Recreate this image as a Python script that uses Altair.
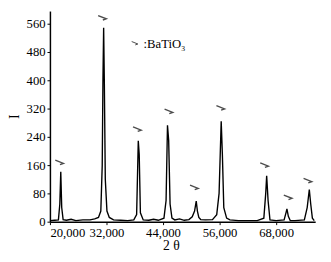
import altair as alt
import pandas as pd

# XRD profile (2theta, intensity)
two_theta = [20.0, 21.0, 21.8, 22.1, 22.3, 22.5, 22.8, 23.5, 24.5, 25.5, 27.0, 28.5, 29.5, 30.3,
             30.8, 31.1, 31.25, 31.4, 31.55, 31.75, 32.1, 32.6, 33.5, 35.0, 36.5, 37.8, 38.4,
             38.75, 38.95, 39.2, 39.8, 41.0, 42.0, 43.0, 44.2, 44.65, 44.95, 45.2, 45.5, 45.9,
             46.5, 47.5, 48.5, 49.5, 50.2, 50.7, 51.05, 51.3, 51.6, 52.0, 53.0, 54.5, 55.4,
             55.9, 56.35, 56.6, 56.9, 57.5, 58.2, 60.0, 62.0, 64.0, 65.4, 65.8, 66.0, 66.3,
             66.7, 68.0, 69.7, 70.1, 70.3, 70.6, 71.0, 72.0, 74.0, 74.6, 75.05, 75.35, 75.7, 76.1]
intensity = [3, 4, 5, 50, 141, 40, 6, 4, 7, 3, 5, 5, 8, 12,
             30, 160, 400, 549, 390, 120, 30, 12, 5, 4, 3, 5, 20,
             229, 190, 25, 5, 4, 7, 4, 10, 60, 273, 230, 50, 10,
             5, 8, 4, 6, 14, 30, 58, 30, 12, 6, 5, 6, 20,
             80, 284, 190, 40, 10, 5, 3, 3, 3, 10, 80, 130, 60,
             5, 3, 5, 25, 36, 15, 3, 3, 5, 40, 91, 50, 10, 3]

# BaTiO3 peak markers
marker_theta = [22.0, 31.1, 38.5, 45.2, 50.6, 56.2, 65.5, 70.5, 74.7]
marker_int = [168, 577, 262, 312, 97, 322, 160, 69, 116]

x_ticks = [20, 32, 44, 56, 68]
y_ticks = [0, 80, 160, 240, 320, 400, 480, 560]
legend_text = [":BaTiO\u2083"]

FONT = "Liberation Serif"
MARK = "M-1,-0.55L1,0.25L0.15,0.55"

profile = pd.DataFrame({"t": two_theta, "i": intensity})
markers = pd.DataFrame({"t": marker_theta, "i": marker_int})
legend = pd.DataFrame({"label": legend_text})

xscale = alt.Scale(domain=[20, 76.3], nice=False, zero=False)
yscale = alt.Scale(domain=[0, 596], nice=False)

line = alt.Chart(profile).mark_line(color="black", strokeWidth=1.4).encode(
    x=alt.X("t:Q", scale=xscale,
            axis=alt.Axis(values=x_ticks, tickCount=10, title="2 \u03b8",
                          labelExpr="replace(format(datum.value, '.3f'), '.', ',')",
                          titleX=124, titlePadding=0)),
    y=alt.Y("i:Q", scale=yscale,
            axis=alt.Axis(values=y_ticks, tickCount=10, title="I", titlePadding=5,
                          labelOverlap=False)),
)

pts = alt.Chart(markers).mark_point(shape=MARK, size=70, color="black",
                                    filled=False, strokeWidth=1.4).encode(
    x=alt.X("t:Q", scale=xscale), y=alt.Y("i:Q", scale=yscale)
)

leg_sym = alt.Chart(legend).mark_point(shape=MARK, size=40, color="black",
                                       filled=False, strokeWidth=1).encode(
    x=alt.value(87), y=alt.value(33)
)
leg_txt = alt.Chart(legend).mark_text(align="left", baseline="middle", font=FONT,
                                      fontSize=13, color="black").encode(
    x=alt.value(96), y=alt.value(34), text="label:N"
)

chart = alt.layer(line, pts, leg_sym, leg_txt).properties(
    width=272, height=216,
    autosize=alt.AutoSizeParams(type="none"),
    padding={"left": 43, "top": 0, "right": 8, "bottom": 30},
).configure_view(stroke=None).configure_axis(
    grid=False, domainColor="black", domainWidth=1.5, tickColor="black",
    tickSize=3, labelFont=FONT, labelFontSize=13, labelColor="black",
    titleFont=FONT, titleFontSize=14, titleFontWeight="normal", titleColor="black",
    labelPadding=2,
)

chart.save("out.html", embed_options={"renderer": "svg", "actions": False})
